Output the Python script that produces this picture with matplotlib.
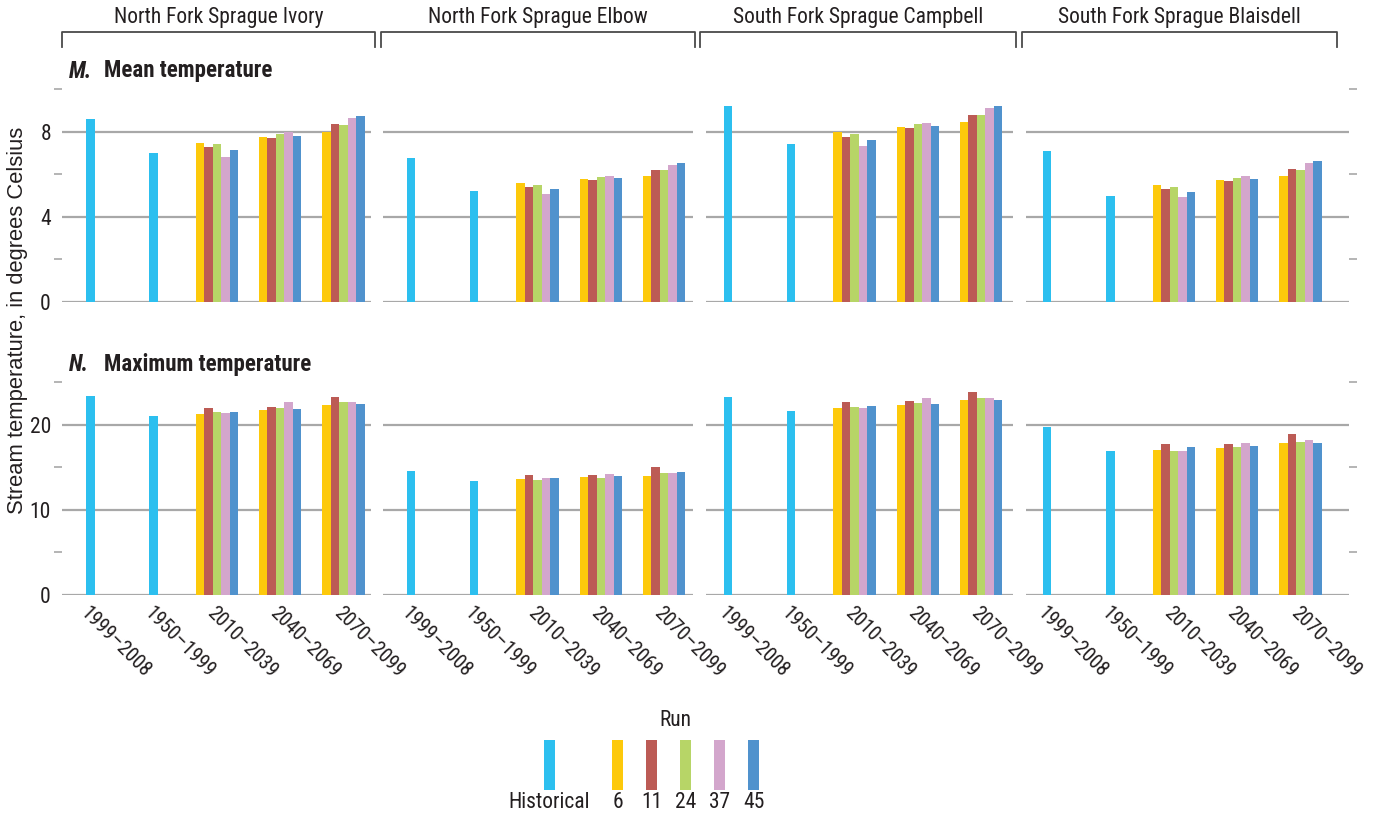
import numpy as np
import matplotlib
matplotlib.use("Agg")
import matplotlib.pyplot as plt
from matplotlib.lines import Line2D
from matplotlib import font_manager

W, H = 1385, 817

sites = ["North Fork Sprague Ivory", "North Fork Sprague Elbow",
         "South Fork Sprague Campbell", "South Fork Sprague Blaisdell"]
periods = ["1999–2008", "1950–1999", "2010–2039", "2040–2069", "2070–2099"]
runs = ["6", "11", "24", "37", "45"]

# historical values, one per site: (1999-2008, 1950-1999)
mean_hist = [[8.60, 7.01], [6.78, 5.19], [9.19, 7.42], [7.09, 5.00]]
max_hist = [[23.33, 21.06], [14.55, 13.37], [23.25, 21.65], [19.73, 16.86]]

# future runs: rows are 2010-2039, 2040-2069, 2070-2099; columns are runs 6, 11, 24, 37, 45
ivory_mean = [[7.45, 7.26, 7.40, 6.82, 7.12],
              [7.73, 7.69, 7.89, 7.97, 7.78],
              [7.97, 8.36, 8.31, 8.64, 8.75]]
elbow_mean = [[5.57, 5.40, 5.51, 5.07, 5.29],
              [5.76, 5.73, 5.87, 5.93, 5.80],
              [5.93, 6.20, 6.20, 6.45, 6.54]]
campbell_mean = [[7.97, 7.75, 7.87, 7.33, 7.61],
                 [8.20, 8.16, 8.35, 8.41, 8.25],
                 [8.44, 8.78, 8.77, 9.10, 9.21]]
blaisdell_mean = [[5.47, 5.29, 5.41, 4.91, 5.18],
                  [5.71, 5.66, 5.84, 5.90, 5.76],
                  [5.91, 6.23, 6.21, 6.53, 6.60]]

ivory_max = [[21.29, 21.96, 21.53, 21.37, 21.53],
             [21.76, 22.08, 22.00, 22.71, 21.84],
             [22.31, 23.29, 22.71, 22.63, 22.43]]
elbow_max = [[13.61, 14.08, 13.45, 13.73, 13.73],
             [13.88, 14.12, 13.76, 14.24, 14.00],
             [14.00, 15.02, 14.35, 14.35, 14.39]]
campbell_max = [[22.00, 22.67, 22.12, 22.00, 22.20],
                [22.31, 22.75, 22.51, 23.14, 22.43],
                [22.90, 23.84, 23.18, 23.14, 22.90]]
blaisdell_max = [[17.02, 17.73, 16.94, 16.94, 17.37],
                 [17.29, 17.76, 17.37, 17.80, 17.49],
                 [17.88, 18.90, 18.00, 18.20, 17.84]]

mean_runs = [ivory_mean, elbow_mean, campbell_mean, blaisdell_mean]
max_runs = [ivory_max, elbow_max, campbell_max, blaisdell_max]

hist_color = "#2cbfef"
run_colors = ["#fdc90b", "#bc5b55", "#b7d567", "#d3a6cc", "#5092cd"]
grid_color = "#a8a8a8"
text_color = "#231f20"

# pick a narrow face for the labels if one is installed
fonts = {(f.name, str(f.stretch)) for f in font_manager.fontManager.ttflist}
names = {n for n, s in fonts}
scale = 1.0
if "Roboto Condensed" in names:
    plt.rcParams["font.family"] = ["Roboto Condensed", "DejaVu Sans"]
elif "Liberation Sans Narrow" in names:
    plt.rcParams["font.family"] = ["Liberation Sans Narrow", "DejaVu Sans"]
elif ("DejaVu Sans", "condensed") in fonts:
    plt.rcParams["font.family"] = ["DejaVu Sans"]
    plt.rcParams["font.stretch"] = "condensed"
else:
    plt.rcParams["font.family"] = ["DejaVu Sans"]
    scale = 0.8
fs_big = 15.5 * scale
fs_head = 16.5 * scale
fs_tick = 15.5 * scale
fs_cat = 14.5 * scale

# panel columns in pixels: left edge, right edge, centre of first category
cols = [(62, 371, 90.3), (383, 693, 410.9), (706, 1013, 727.9), (1026, 1349, 1047.2)]
step = 63.3          # pixels per category
bw = 8.5 / step      # bar width in category units
# panel rows in pixels: top, bottom, y max, major ticks, minor ticks
rows = [(89, 302, 10, [0, 4, 8], [2, 6, 10]),
        (382, 595, 25, [0, 10, 20], [5, 15, 25])]


def px_box(x0, y0, x1, y1):
    return [x0 / W, 1 - y1 / H, (x1 - x0) / W, (y1 - y0) / H]


fig = plt.figure(figsize=(W / 100, H / 100), dpi=100)

for r, (top, bot, ymax, majors, minors) in enumerate(rows):
    hist_vals = mean_hist if r == 0 else max_hist
    run_vals = mean_runs if r == 0 else max_runs
    for c, (left, right, c0) in enumerate(cols):
        ax = fig.add_axes(px_box(left, top, right, bot))
        ax.set_xlim((left - c0) / step, (right - c0) / step)
        ax.set_ylim(0, ymax)

        ax.bar([0, 1], hist_vals[c], width=bw, color=hist_color, zorder=3)
        future = np.arange(2, 5)
        for j in range(len(runs)):
            heights = [run_vals[c][p][j] for p in range(3)]
            ax.bar(future + (j - 2) * bw, heights, width=bw,
                   color=run_colors[j], zorder=3)

        for s in ax.spines.values():
            s.set_visible(False)
        ax.set_yticks(majors)
        ax.set_yticks(minors, minor=True)
        ax.yaxis.grid(True, which="major", color=grid_color, lw=1.6, zorder=1)
        ax.tick_params(axis="y", which="major", length=0, pad=8,
                       labelsize=fs_tick, labelcolor=text_color)
        ax.tick_params(axis="y", which="minor", length=6, width=1.2,
                       color=grid_color)
        if c == 0:
            ax.tick_params(axis="y", which="minor", left=True)
            ax.tick_params(axis="y", which="major", left=False, labelleft=True)
        elif c == len(cols) - 1:
            ax.tick_params(axis="y", which="both", left=False, labelleft=False,
                           labelright=False)
            ax.tick_params(axis="y", which="minor", right=True)
        else:
            ax.tick_params(axis="y", which="both", left=False, labelleft=False)

        ax.set_xticks(range(len(periods)))
        ax.tick_params(axis="x", length=0, pad=6)
        if r == 1:
            ax.set_xticklabels(periods, rotation=-45, ha="left", va="top",
                               rotation_mode="anchor", fontsize=fs_cat,
                               color=text_color)
        else:
            ax.set_xticklabels([])

# site headings with brackets
brackets = [(62, 375), (381, 695), (700, 1016), (1022, 1337)]
for name, (x0, x1) in zip(sites, brackets):
    fig.text((x0 + x1) / 2 / W, 1 - 18 / H, name, ha="center", va="center",
             fontsize=fs_big, color=text_color)
    fig.add_artist(Line2D([x0 / W, x0 / W, x1 / W, x1 / W],
                          [1 - 47 / H, 1 - 32 / H, 1 - 32 / H, 1 - 47 / H],
                          color="#4a4a4a", lw=1.3))

# panel titles
for letter, title, y in [("M.", "Mean temperature", 71), ("N.", "Maximum temperature", 364)]:
    fig.text(69 / W, 1 - y / H, letter, ha="left", va="center", fontsize=fs_head,
             fontweight="bold", fontstyle="italic", color=text_color)
    fig.text(104 / W, 1 - y / H, title, ha="left", va="center", fontsize=fs_head,
             fontweight="bold", color=text_color)

fig.text(18 / W, 1 - 320 / H, "Stream temperature, in degrees Celsius",
         rotation=90, ha="center", va="center", fontsize=15.8,
         family=["Liberation Sans", "DejaVu Sans"], stretch="normal",
         color=text_color)

# legend
leg = fig.add_axes(px_box(480, 700, 800, 817))
leg.set_xlim(480, 800)
leg.set_ylim(817, 700)
leg.axis("off")
leg_x = [549.5, 617.5, 651.5, 685.5, 719.5, 753.5]
leg_labels = ["Historical"] + runs
leg_colors = [hist_color] + run_colors
leg.bar(leg_x, [-50] * len(leg_x), bottom=790, width=11, color=leg_colors)
for x, lab in zip(leg_x, leg_labels):
    leg.text(x, 802, lab, ha="center", va="center", fontsize=fs_big, color=text_color)
leg.text(675, 721, "Run", ha="center", va="center", fontsize=fs_big, color=text_color)

fig.savefig("out.png", dpi=100)
